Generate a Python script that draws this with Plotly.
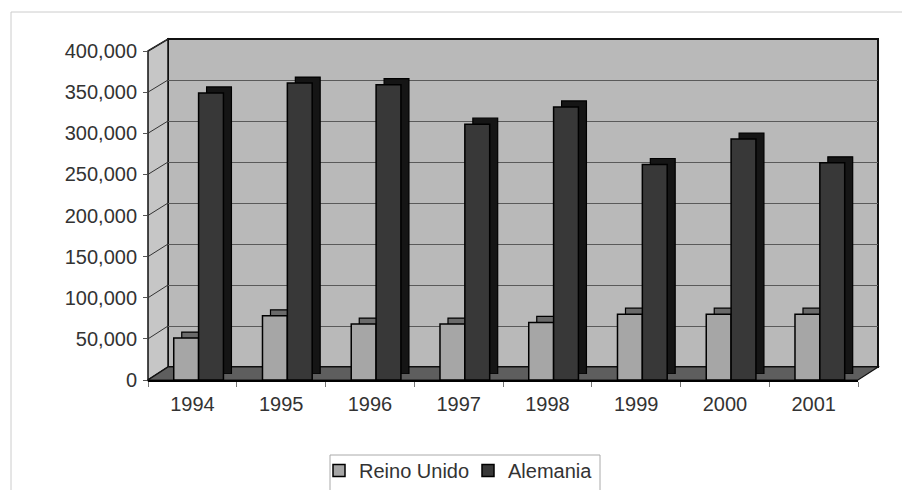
import plotly.graph_objects as go

# ---- data ----
years = ["1994", "1995", "1996", "1997", "1998", "1999", "2000", "2001"]
reino_unido = [51000, 78000, 68000, 68000, 70000, 80000, 80000, 80000]
alemania = [349000, 361000, 359000, 311000, 332000, 262000, 293000, 264000]
y_ticks = [0, 50000, 100000, 150000, 200000, 250000, 300000, 350000, 400000]
series_names = ["Reino Unido", "Alemania"]

OFF = 8  # page body margin
W, H = 910 - 2 * OFF, 498 - 2 * OFF
FONT = "Liberation Sans, Arial, sans-serif"
TXT = "#333333"


def px(x):
    return (x - OFF) / W


def py(y):
    return 1 - (y - OFF) / H


# plane geometry (page pixels)
FRONT = dict(x0=148, x1=858, ytop=51, ybot=380)
BACK = dict(x0=168, x1=878, ytop=39, ybot=367)
DEPTH = dict(dx=8, dy=6)

fig = go.Figure()

bar_w = 0.28
shift = 0.07
offsets = [-bar_w + shift, shift]
front_cols = ["#a6a6a6", "#383838"]
side_cols = ["#6a6a6a", "#151515"]
values = [reino_unido, alemania]

# depth (side/top) faces on shifted axes
for i in range(2):
    fig.add_trace(go.Bar(
        x=years, y=values[i], name=series_names[i], showlegend=False,
        width=bar_w, offset=offsets[i],
        marker=dict(color=side_cols[i], line=dict(color="#000", width=1.2)),
        xaxis="x2", yaxis="y2", hoverinfo="skip"))

# front faces
for i in range(2):
    fig.add_trace(go.Bar(
        x=years, y=values[i], name=series_names[i],
        width=bar_w, offset=offsets[i],
        marker=dict(color=front_cols[i], line=dict(color="#000", width=1.5)),
        xaxis="x3", yaxis="y3"))

# back-wall axes only for gridlines
fig.add_trace(go.Scatter(x=years, y=[None] * len(years), xaxis="x", yaxis="y",
                         showlegend=False, hoverinfo="skip"))

cat_range = [-0.5, len(years) - 0.5]
yr = [0, 400000]

fig.update_layout(
    width=W, height=H, autosize=False,
    margin=dict(l=0, r=0, t=0, b=0, autoexpand=False),
    paper_bgcolor="white", plot_bgcolor="rgba(0,0,0,0)",
    barmode="overlay",
    font=dict(family=FONT, size=20, color=TXT),
    xaxis=dict(domain=[px(BACK["x0"]), px(BACK["x1"])], type="category",
               range=cat_range, showticklabels=False, showgrid=False,
               zeroline=False, showline=False, anchor="y"),
    yaxis=dict(domain=[py(BACK["ybot"]), py(BACK["ytop"])], range=yr,
               showticklabels=False, showgrid=True, gridcolor="#5a5a5a",
               gridwidth=1, tickvals=y_ticks, zeroline=False, anchor="x"),
    xaxis2=dict(domain=[px(FRONT["x0"] + DEPTH["dx"]), px(FRONT["x1"] + DEPTH["dx"])],
                type="category", range=cat_range, visible=False, anchor="y2"),
    yaxis2=dict(domain=[py(FRONT["ybot"] - DEPTH["dy"]), py(FRONT["ytop"] - DEPTH["dy"])],
                range=yr, visible=False, anchor="x2"),
    xaxis3=dict(domain=[px(FRONT["x0"]), px(FRONT["x1"])], type="category",
                range=cat_range, showgrid=False, zeroline=False,
                showline=True, linecolor="#000", linewidth=2,
                ticks="outside", tickson="boundaries", ticklen=5,
                tickcolor="#777", tickfont=dict(size=20, color=TXT, family=FONT),
                anchor="y3", ticklabelstandoff=5),
    yaxis3=dict(domain=[py(FRONT["ybot"]), py(FRONT["ytop"])], range=yr,
                tickvals=y_ticks, tickformat=",d", showgrid=False, zeroline=False,
                showline=False, ticks="outside", ticklen=4, tickcolor="#555",
                tickfont=dict(size=20, color=TXT, family=FONT), anchor="x3",
                ticklabelstandoff=2),
    legend=dict(orientation="h", x=px(319), y=py(451), xanchor="left", yanchor="top",
                borderwidth=0, bgcolor="rgba(0,0,0,0)",
                font=dict(size=20, color=TXT, family=FONT), traceorder="normal",
                itemwidth=30, entrywidth=104, tracegroupgap=0),
)

shapes = []
# outer frame
shapes.append(dict(type="line", xref="paper", yref="paper", x0=px(11), x1=px(910),
                   y0=py(12), y1=py(12), line=dict(color="#cccccc", width=1)))
shapes.append(dict(type="line", xref="paper", yref="paper", x0=px(11), x1=px(11),
                   y0=py(12), y1=py(498), line=dict(color="#cccccc", width=1)))
# legend box
shapes.append(dict(type="rect", xref="paper", yref="paper", layer="below",
                   x0=px(330), x1=px(600), y0=py(505), y1=py(455),
                   fillcolor="white", line=dict(color="#aaaaaa", width=1)))
# back wall
shapes.append(dict(type="rect", xref="paper", yref="paper", layer="below",
                   x0=px(BACK["x0"]), x1=px(BACK["x1"]), y0=py(BACK["ybot"]), y1=py(BACK["ytop"]),
                   fillcolor="#b9b9b9", line=dict(color="#111", width=2)))
# left wall
lw = (f"M {px(FRONT['x0'])},{py(FRONT['ytop'])} L {px(BACK['x0'])},{py(BACK['ytop'])} "
      f"L {px(BACK['x0'])},{py(BACK['ybot'])} L {px(FRONT['x0'])},{py(FRONT['ybot'])} Z")
shapes.append(dict(type="path", xref="paper", yref="paper", layer="below", path=lw,
                   fillcolor="#c6c6c6", line=dict(color="#111", width=1.5)))
# diagonal tick lines on left wall
for v in y_ticks:
    f = v / yr[1]
    yf = FRONT["ybot"] - f * (FRONT["ybot"] - FRONT["ytop"])
    yb = BACK["ybot"] - f * (BACK["ybot"] - BACK["ytop"])
    shapes.append(dict(type="line", xref="paper", yref="paper", layer="below",
                       x0=px(FRONT["x0"]), y0=py(yf), x1=px(BACK["x0"]), y1=py(yb),
                       line=dict(color="#333", width=1)))
# floor
fl = (f"M {px(FRONT['x0'])},{py(FRONT['ybot'])} L {px(BACK['x0'])},{py(BACK['ybot'])} "
      f"L {px(BACK['x1'])},{py(BACK['ybot'])} L {px(FRONT['x1'])},{py(FRONT['ybot'])} Z")
shapes.append(dict(type="path", xref="paper", yref="paper", layer="below", path=fl,
                   fillcolor="#5e5e5e", line=dict(color="#111", width=1.2)))
fig.update_layout(shapes=shapes)

fig.write_html("out.html")
